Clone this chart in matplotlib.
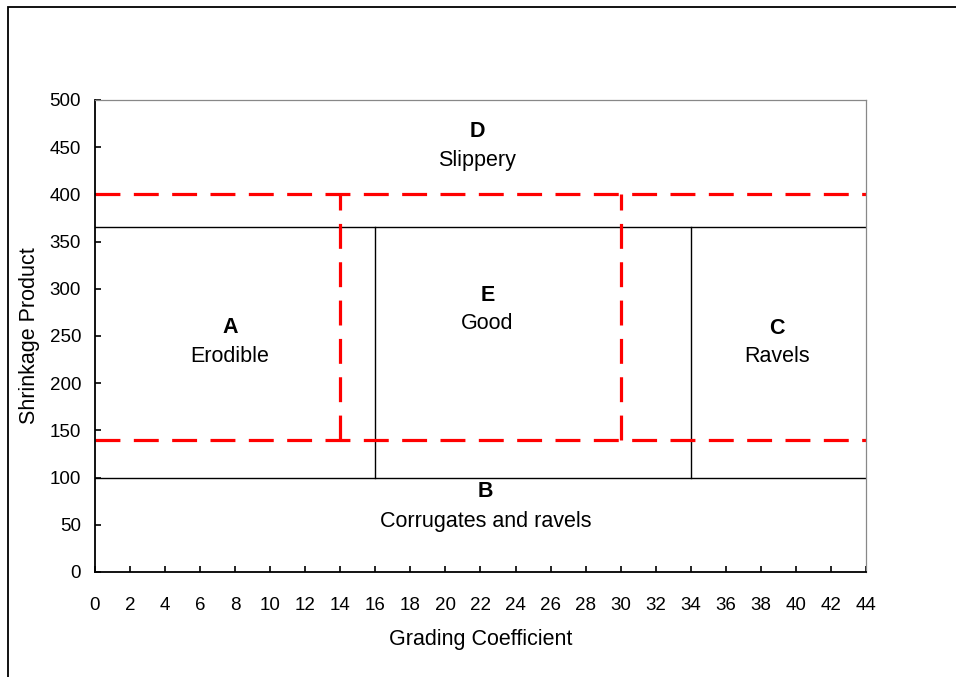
import matplotlib
matplotlib.use('Agg')

import matplotlib.pyplot as plt
from matplotlib.patches import Rectangle

# zone boundaries (black solid lines)
black_h = [(365, 0, 44), (100, 0, 44)]        # y, xmin, xmax
black_v = [(16, 100, 365), (34, 100, 365)]    # x, ymin, ymax

# red dashed boundaries
red_h = [(400, 0, 44), (140, 0, 44)]
red_v = [(14, 140, 400), (30, 140, 400)]

# zone labels: letter, description, x, y of letter, y of description
zones = ["D", "A", "E", "C", "B"]
descriptions = ["Slippery", "Erodible", "Good", "Ravels", "Corrugates and ravels"]
zone_x = [21.8, 7.7, 22.4, 38.9, 22.3]
letter_y = [467, 259, 293, 258, 85]
desc_y = [436, 228, 263, 228, 54]

plt.rcParams['font.family'] = ['Liberation Sans', 'DejaVu Sans']

fig = plt.figure(figsize=(9.56, 6.77), dpi=100)
ax = fig.add_axes([95 / 956, 1 - 572 / 677, 771 / 956, 472 / 677])

for y, x0, x1 in black_h:
    ax.plot([x0, x1], [y, y], color='black', lw=1.0)
for x, y0, y1 in black_v:
    ax.plot([x, x], [y0, y1], color='black', lw=1.0)

for y, x0, x1 in red_h:
    ax.plot([x0, x1], [y, y], color='red', lw=2.3, dashes=(7.8, 4.2))
for x, y0, y1 in red_v:
    ax.plot([x, x], [y0, y1], color='red', lw=2.3, dashes=(7.8, 4.2))

for z, d, x, ly, dy in zip(zones, descriptions, zone_x, letter_y, desc_y):
    ax.text(x, ly, z, ha='center', va='center', fontsize=15.5, fontweight='bold')
    ax.text(x, dy, d, ha='center', va='center', fontsize=15.5)

ax.set_xlim(0, 44)
ax.set_ylim(0, 500)
ax.set_xticks(range(0, 45, 2))
ax.set_yticks(range(0, 501, 50))
ax.tick_params(direction='in', length=4, width=1.2, labelsize=13.5)
ax.tick_params(axis='x', pad=18)
ax.tick_params(axis='y', pad=10)
ax.set_xlabel('Grading Coefficient', fontsize=15.5, labelpad=11)
ax.set_ylabel('Shrinkage Product', fontsize=15.5, labelpad=7)

for s in ['left', 'bottom']:
    ax.spines[s].set_linewidth(1.3)
for s in ['top', 'right']:
    ax.spines[s].set_color('#888888')
    ax.spines[s].set_linewidth(0.9)

# outer chart border
fig.patches.append(Rectangle((8 / 956, -0.1), 1.0, 1 - 7 / 677 + 0.1,
                             transform=fig.transFigure, fill=False,
                             edgecolor='black', lw=1.3))

plt.savefig('out.png', dpi=100)
plt.close(fig)
